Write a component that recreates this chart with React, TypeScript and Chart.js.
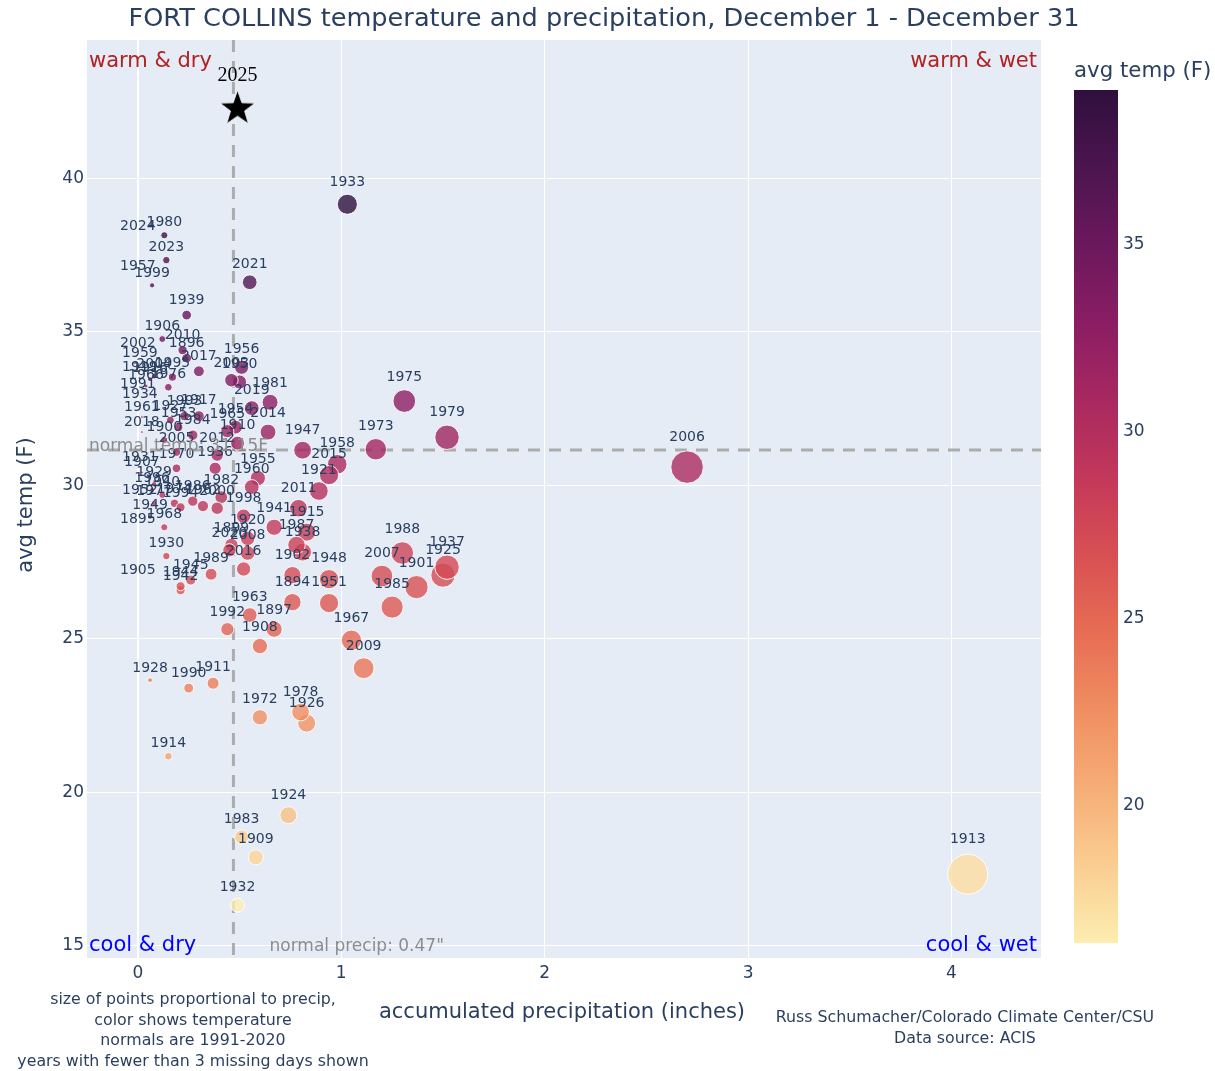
import React, { useEffect, useRef } from "react";
import { Chart, registerables } from "chart.js";
Chart.register(...registerables);

const FONT = '"DejaVu Sans", Verdana, Arial, sans-serif';
const TXT = "#2a3f5f";

const years = [
  1894, 1895, 1896, 1897, 1899, 1900, 1901, 1902, 1905, 1906, 1907, 1908, 1909, 1910, 1911, 1913, 1914, 1915,
  1916, 1917, 1919, 1920, 1921, 1924, 1925, 1926, 1927, 1928, 1929, 1930, 1931, 1932, 1933, 1934, 1936, 1937,
  1938, 1939, 1940, 1941, 1942, 1944, 1945, 1947, 1948, 1949, 1950, 1951, 1952, 1953, 1954, 1955, 1956, 1957,
  1958, 1959, 1960, 1961, 1962, 1963, 1965, 1966, 1967, 1968, 1970, 1972, 1973, 1974, 1975, 1976, 1977, 1978,
  1979, 1980, 1981, 1982, 1983, 1984, 1985, 1986, 1987, 1988, 1989, 1990, 1991, 1992, 1993, 1994, 1995, 1996,
  1998, 1999, 2000, 2002, 2003, 2004, 2005, 2006, 2007, 2008, 2009, 2010, 2011, 2012, 2014, 2015, 2016, 2017,
  2018, 2019, 2020, 2021, 2023, 2024,
];
const precip = [
  0.76, 0.0, 0.24, 0.67, 0.46, 0.13, 1.37, 0.76, 0.0, 0.12, 0.02, 0.6, 0.58, 0.49, 0.37, 4.08, 0.15, 0.83,
  0.06, 0.3, 0.01, 0.54, 0.89, 0.74, 1.5, 0.83, 0.16, 0.06, 0.08, 0.14, 0.01, 0.49, 1.03, 0.01, 0.38, 1.52,
  0.81, 0.24, 0.12, 0.67, 0.21, 0.21, 0.26, 0.81, 0.94, 0.06, 0.5, 0.94, 0.01, 0.2, 0.48, 0.59, 0.51, 0.0,
  0.98, 0.01, 0.56, 0.02, 0.32, 0.55, 0.44, 0.04, 1.05, 0.13, 0.19, 0.6, 1.17, 0.18, 1.31, 0.15, 0.08, 0.8,
  1.52, 0.13, 0.65, 0.41, 0.51, 0.27, 1.25, 0.27, 0.78, 1.3, 0.36, 0.25, 0.0, 0.44, 0.23, 0.21, 0.17, 0.07,
  0.52, 0.07, 0.39, 0.0, 0.46, 0.08, 0.19, 2.7, 1.2, 0.54, 1.11, 0.22, 0.79, 0.39, 0.64, 0.94, 0.52, 0.3,
  0.02, 0.56, 0.45, 0.55, 0.14, 0.0,
];
const temps = [
  26.19, 28.62, 34.14, 25.31, 28.05, 31.47, 26.68, 27.07, 26.96, 34.76, 30.42, 24.76, 17.88, 31.37, 23.55, 17.33, 21.17, 28.47,
  33.45, 32.25, 33.52, 28.27, 29.81, 19.25, 27.07, 22.25, 32.12, 23.65, 30.03, 27.69, 30.59, 16.32, 39.15, 32.64, 30.55, 27.33,
  27.82, 35.54, 29.68, 28.63, 26.58, 26.71, 26.91, 31.14, 26.94, 28.96, 33.36, 26.16, 29.51, 31.89, 31.89, 30.23, 33.84, 36.86,
  30.68, 33.97, 29.94, 32.22, 29.32, 25.77, 31.76, 33.23, 24.95, 28.63, 30.55, 22.44, 31.17, 29.41, 32.74, 33.19, 29.41, 22.61,
  31.56, 38.14, 32.7, 29.61, 18.54, 31.63, 26.03, 29.48, 28.05, 27.79, 27.1, 23.39, 33.01, 25.31, 32.25, 29.28, 33.52, 29.84,
  28.99, 36.51, 29.25, 34.35, 33.42, 33.55, 31.08, 30.59, 27.04, 27.79, 24.04, 34.4, 29.25, 30.98, 31.73, 30.33, 27.27, 33.71,
  31.73, 32.51, 27.88, 36.61, 37.33, 38.16,
];

const currentYear = 2025;
const currentPrecip = 0.49;
const currentTemp = 42.31;

const normalPrecip = 0.47;
const normalTemp = 31.15;

const xTicks = [0, 1, 2, 3, 4];
const yTicks = [15, 20, 25, 30, 35, 40];
const colorbarTicks = [20, 25, 30, 35];

const matter = [
  [253, 237, 176], [250, 205, 145], [246, 173, 119], [240, 142, 98], [231, 109, 84], [216, 80, 83],
  [195, 56, 90], [168, 40, 96], [138, 29, 99], [107, 24, 93], [76, 21, 80], [47, 15, 61],
];

function colorAt(f: number, a: number) {
  const ff = Math.max(0, Math.min(1, f));
  const pos = ff * (matter.length - 1);
  const i = Math.min(matter.length - 2, Math.floor(pos));
  const t = pos - i;
  const c = matter[i].map((v, k) => Math.round(v + (matter[i + 1][k] - v) * t));
  return `rgba(${c[0]},${c[1]},${c[2]},${a})`;
}

function makeStar(outer: number) {
  const size = Math.ceil(outer * 2 + 4);
  const c = document.createElement("canvas");
  c.width = size;
  c.height = size;
  const ctx = c.getContext("2d")!;
  const cx = size / 2, cy = size / 2 + 1.5;
  const inner = outer * 0.4;
  ctx.beginPath();
  for (let i = 0; i < 10; i++) {
    const ang = -Math.PI / 2 + (i * Math.PI) / 5;
    const r = i % 2 === 0 ? outer : inner;
    const x = cx + r * Math.cos(ang);
    const y = cy + r * Math.sin(ang);
    if (i === 0) ctx.moveTo(x, y);
    else ctx.lineTo(x, y);
  }
  ctx.closePath();
  ctx.fillStyle = "#000";
  ctx.fill();
  ctx.strokeStyle = "rgba(255,255,255,0.8)";
  ctx.lineWidth = 1;
  ctx.stroke();
  return c;
}

export default function App() {
  const ref = useRef<HTMLCanvasElement>(null);

  useEffect(() => {
    const canvas = ref.current!;
    const cmin = Math.min(...temps);
    const cmax = Math.max(...temps);
    const norm = (t: number) => (t - cmin) / (cmax - cmin);
    const radii = precip.map((p) => 9.9 * Math.sqrt(p));
    const star = makeStar(18.5);

    const overlay = {
      id: "overlay",
      beforeDraw(chart: any) {
        const { ctx, chartArea: a } = chart;
        ctx.save();
        ctx.fillStyle = "#ffffff";
        ctx.fillRect(0, 0, chart.width, chart.height);
        ctx.fillStyle = "#e5ecf6";
        ctx.fillRect(a.left, a.top, a.right - a.left, a.bottom - a.top);
        ctx.restore();
      },
      beforeDatasetsDraw(chart: any) {
        const { ctx, chartArea: a, scales } = chart;
        const xp = scales.x.getPixelForValue(normalPrecip);
        const yp = scales.y.getPixelForValue(normalTemp);
        ctx.save();
        ctx.strokeStyle = "rgba(169,169,169,0.95)";
        ctx.lineWidth = 3;
        ctx.setLineDash([12, 9]);
        ctx.beginPath();
        ctx.moveTo(xp, a.top);
        ctx.lineTo(xp, a.bottom);
        ctx.stroke();
        ctx.beginPath();
        ctx.moveTo(a.left, yp);
        ctx.lineTo(a.right, yp);
        ctx.stroke();
        ctx.restore();
      },
      afterDatasetDraw(chart: any, args: any) {
        const ctx = chart.ctx;
        const meta = chart.getDatasetMeta(args.index);
        ctx.save();
        if (args.index === 0) {
          ctx.font = `14px ${FONT}`;
          ctx.fillStyle = TXT;
          ctx.textAlign = "center";
          ctx.textBaseline = "alphabetic";
          meta.data.forEach((el: any, i: number) => {
            ctx.fillText(String(years[i]), el.x, el.y - 1.34 * radii[i] - 4.5);
          });
        } else if (args.index === 1) {
          ctx.font = `20px "Liberation Serif", "Times New Roman", serif`;
          ctx.fillStyle = "#000";
          ctx.textAlign = "center";
          ctx.textBaseline = "alphabetic";
          meta.data.forEach((el: any) => {
            ctx.fillText(String(currentYear), el.x, el.y - 26);
          });
        }
        ctx.restore();
      },
      afterDraw(chart: any) {
        const { ctx, chartArea: a, scales } = chart;
        const xp = scales.x.getPixelForValue(normalPrecip);
        const yp = scales.y.getPixelForValue(normalTemp);
        ctx.save();
        ctx.textBaseline = "middle";
        // normals text
        ctx.font = `17px ${FONT}`;
        ctx.fillStyle = "#8c8c8c";
        ctx.textAlign = "left";
        ctx.fillText("normal temp: " + normalTemp.toFixed(2) + "F", a.left + 2, yp - 3);
        ctx.fillText("normal precip: " + normalPrecip.toFixed(2) + '"', xp + 36, a.bottom - 11);
        // quadrant labels
        ctx.font = `21px ${FONT}`;
        ctx.fillStyle = "#b22222";
        ctx.textAlign = "left";
        ctx.fillText("warm & dry", a.left + 2, a.top + 22);
        ctx.textAlign = "right";
        ctx.fillText("warm & wet", a.right - 4, a.top + 22);
        ctx.fillStyle = "#0000ff";
        ctx.textAlign = "left";
        ctx.fillText("cool & dry", a.left + 2, a.bottom - 12);
        ctx.textAlign = "right";
        ctx.fillText("cool & wet", a.right - 4, a.bottom - 12);
        // title
        ctx.fillStyle = TXT;
        ctx.font = `25.6px ${FONT}`;
        ctx.textAlign = "center";
        ctx.fillText("FORT COLLINS temperature and precipitation, December 1 - December 31", 604, 19);
        // axis titles
        ctx.font = `21px ${FONT}`;
        ctx.fillText("accumulated precipitation (inches)", 562, 1013);
        ctx.save();
        ctx.translate(27, 505);
        ctx.rotate(-Math.PI / 2);
        ctx.font = `21px ${FONT}`;
        ctx.fillText("avg temp (F)", 0, 0);
        ctx.restore();
        // footnotes
        ctx.font = `15.8px ${FONT}`;
        const notes = [
          "size of points proportional to precip,",
          "color shows temperature",
          "normals are 1991-2020",
          "years with fewer than 3 missing days shown",
        ];
        notes.forEach((n, i) => ctx.fillText(n, 193, 1000 + i * 20.5));
        ctx.fillText("Russ Schumacher/Colorado Climate Center/CSU", 965, 1018);
        ctx.fillText("Data source: ACIS", 965, 1039);
        // colorbar
        const cbL = 1074, cbR = 1118, cbT = 90, cbB = 943;
        const g = ctx.createLinearGradient(0, cbB, 0, cbT);
        matter.forEach((c, i) => g.addColorStop(i / (matter.length - 1), `rgb(${c[0]},${c[1]},${c[2]})`));
        ctx.fillStyle = g;
        ctx.fillRect(cbL, cbT, cbR - cbL, cbB - cbT);
        ctx.fillStyle = TXT;
        ctx.font = `17px ${FONT}`;
        ctx.textAlign = "left";
        colorbarTicks.forEach((v) => {
          const y = cbB - norm(v) * (cbB - cbT);
          ctx.fillText(String(v), cbR + 5, y);
        });
        ctx.font = `21.3px ${FONT}`;
        ctx.fillText("avg temp (F)", cbL, 71);
        ctx.restore();
      },
    };

    const chart = new Chart(canvas, {
      type: "scatter",
      data: {
        datasets: [
          {
            data: years.map((_, i) => ({ x: precip[i], y: temps[i] })),
            pointRadius: radii,
            pointHoverRadius: radii,
            backgroundColor: temps.map((t) => colorAt(norm(t), 0.8)),
            borderColor: "rgba(255,255,255,0.9)",
            borderWidth: 1,
          },
          {
            data: [{ x: currentPrecip, y: currentTemp }],
            pointStyle: star as any,
            pointRadius: 18,
            backgroundColor: "#000",
          },
        ],
      },
      options: {
        responsive: false,
        animation: false,
        devicePixelRatio: 1,
        events: [],
        layout: { padding: { left: 0, top: 40, right: 174, bottom: 0 } },
        plugins: { legend: { display: false }, tooltip: { enabled: false } },
        scales: {
          x: {
            type: "linear",
            min: -0.25,
            max: 4.44,
            afterFit: (s: any) => {
              s.height = 113;
            },
            afterBuildTicks: (s: any) => {
              s.ticks = xTicks.map((v) => ({ value: v }));
            },
            grid: {
              color: "#ffffff",
              lineWidth: (c: any) => (c.tick && c.tick.value === 0 ? 2 : 1),
              drawTicks: false,
            },
            border: { display: false },
            ticks: { color: TXT, font: { family: FONT, size: 17 }, padding: 5 },
          },
          y: {
            type: "linear",
            min: 14.6,
            max: 44.5,
            afterFit: (s: any) => {
              s.width = 87;
            },
            afterBuildTicks: (s: any) => {
              s.ticks = yTicks.map((v) => ({ value: v }));
            },
            grid: { color: "#ffffff", lineWidth: 1, drawTicks: false },
            border: { display: false },
            ticks: { color: TXT, font: { family: FONT, size: 17 }, padding: 3 },
          },
        },
      },
      plugins: [overlay],
    });
    return () => chart.destroy();
  }, []);

  return (
    <div style={{ position: "fixed", left: 0, top: 0, width: 1215, height: 1071, background: "#fff" }}>
      <canvas ref={ref} width={1215} height={1071} style={{ display: "block" }} />
    </div>
  );
}
